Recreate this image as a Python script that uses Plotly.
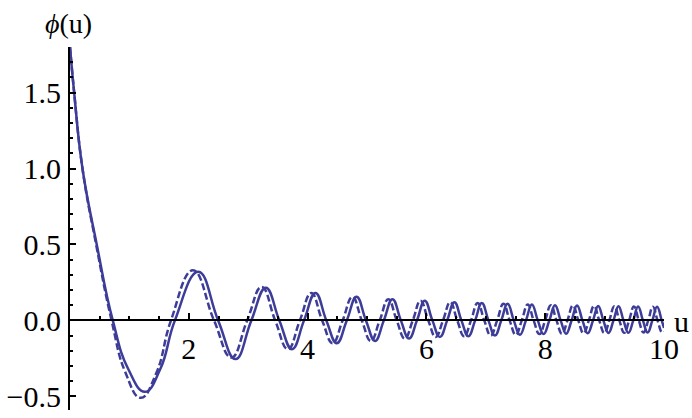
import plotly.graph_objects as go

# values (extrema + zero crossings)
u_solid = [0.00, 0.07, 0.21, 0.45, 0.72, 0.98, 1.26, 1.52, 1.766,
           2.161, 2.494, 2.787, 3.053, 3.297, 3.524, 3.738, 3.940, 4.132, 4.315,
           4.491, 4.660, 4.824, 4.982, 5.135, 5.284, 5.429, 5.570, 5.707, 5.841,
           5.972, 6.101, 6.227, 6.350, 6.471, 6.589, 6.706, 6.821, 6.933, 7.044,
           7.153, 7.261, 7.367, 7.471, 7.574, 7.676, 7.776, 7.875, 7.973, 8.070,
           8.165, 8.260, 8.353, 8.445, 8.536, 8.627, 8.716, 8.805, 8.892, 8.979,
           9.065, 9.150, 9.234, 9.318, 9.401, 9.483, 9.564, 9.645, 9.725, 9.804,
           9.883, 9.961, 10.0]
phi_solid = [1.80, 1.50, 1.00, 0.50, 0.00, -0.32, -0.47, -0.32, 0.00,
             0.32, 0, -0.255, 0, 0.215, 0, -0.19, 0, 0.18, 0,
             -0.15, 0, 0.155, 0, -0.135, 0, 0.14, 0, -0.12, 0,
             0.13, 0, -0.11, 0, 0.12, 0, -0.105, 0, 0.115, 0,
             -0.10, 0, 0.11, 0, -0.095, 0, 0.105, 0, -0.09, 0,
             0.10, 0, -0.088, 0, 0.098, 0, -0.085, 0, 0.095, 0,
             -0.083, 0, 0.093, 0, -0.082, 0, 0.092, 0, -0.08, 0,
             0.09, 0, -0.05]

u_dashed = [0.00, 0.07, 0.21, 0.44, 0.70, 0.93, 1.19, 1.45, 1.70,
            2.070, 2.424, 2.717, 2.983, 3.227, 3.454, 3.668, 3.870, 4.062, 4.245,
            4.421, 4.590, 4.754, 4.912, 5.065, 5.214, 5.359, 5.500, 5.637, 5.771,
            5.902, 6.031, 6.157, 6.280, 6.401, 6.519, 6.636, 6.751, 6.863, 6.974,
            7.083, 7.191, 7.297, 7.401, 7.504, 7.606, 7.706, 7.805, 7.903, 8.000,
            8.095, 8.190, 8.283, 8.375, 8.466, 8.557, 8.646, 8.735, 8.822, 8.909,
            8.995, 9.080, 9.164, 9.248, 9.331, 9.413, 9.494, 9.575, 9.655, 9.734,
            9.813, 9.891, 9.968, 10.0]
phi_dashed = [1.80, 1.50, 1.00, 0.50, 0.00, -0.34, -0.51, -0.35, 0.00,
              0.33, 0, -0.245, 0, 0.22, 0, -0.19, 0, 0.18, 0,
              -0.15, 0, 0.155, 0, -0.135, 0, 0.14, 0, -0.12, 0,
              0.13, 0, -0.11, 0, 0.12, 0, -0.105, 0, 0.115, 0,
              -0.10, 0, 0.11, 0, -0.095, 0, 0.105, 0, -0.09, 0,
              0.10, 0, -0.088, 0, 0.098, 0, -0.085, 0, 0.095, 0,
              -0.083, 0, 0.093, 0, -0.082, 0, 0.092, 0, -0.08, 0,
              0.09, 0, -0.08, -0.075]

x_ticks = [2, 4, 6, 8, 10]
y_ticks = [-0.5, 0.0, 0.5, 1.0, 1.5]

X_RANGE = [0, 10]
Y_RANGE = [-0.59, 1.80]
LINE_COLOR = "#3d3d99"
FONT = "Liberation Serif"

fig = go.Figure()
fig.add_trace(go.Scatter(x=u_solid, y=phi_solid, mode="lines",
                         line=dict(color=LINE_COLOR, width=2.5, shape="spline", smoothing=1.3)))
fig.add_trace(go.Scatter(x=u_dashed, y=phi_dashed, mode="lines",
                         line=dict(color=LINE_COLOR, width=2.5, shape="spline", smoothing=1.3,
                                   dash="7px,3px")))

# put the x axis on the line y = 0
x_axis_pos = (0 - Y_RANGE[0]) / (Y_RANGE[1] - Y_RANGE[0])

fig.update_layout(
    width=692, height=418,
    margin=dict(l=70, r=28, t=47, b=5),
    paper_bgcolor="white", plot_bgcolor="white",
    showlegend=False,
    font=dict(family=FONT, size=30, color="black"),
    xaxis=dict(range=X_RANGE, tickmode="array", tickvals=x_ticks,
               anchor="free", position=x_axis_pos,
               showline=True, linecolor="black", linewidth=2,
               ticks="inside", ticklen=6, tickwidth=2, tickcolor="black",
               ticklabelstandoff=2,
               minor=dict(tickmode="linear", tick0=0, dtick=0.5, ticks="inside",
                          ticklen=3, tickwidth=2, tickcolor="black"),
               showgrid=False, zeroline=False),
    yaxis=dict(range=Y_RANGE, tickmode="array", tickvals=y_ticks, tickformat=".1f",
               showline=True, linecolor="black", linewidth=2,
               ticks="inside", ticklen=6, tickwidth=2, tickcolor="black",
               ticklabelstandoff=1,
               minor=dict(tickmode="linear", tick0=0, dtick=0.1, ticks="inside",
                          ticklen=3, tickwidth=2, tickcolor="black"),
               showgrid=False, zeroline=False),
)

fig.add_annotation(x=-0.003, y=1.065, xref="paper", yref="paper", showarrow=False,
                   xanchor="center", yanchor="middle",
                   text="<i>ϕ</i>(u)", font=dict(family=FONT, size=28))
fig.add_annotation(x=1.029, y=0.243, xref="paper", yref="paper", showarrow=False,
                   xanchor="center", yanchor="middle",
                   text="u", font=dict(family=FONT, size=30))

# drop the default 8px page margin so the figure fills the window exactly
fig.write_html("out.html", config={"displayModeBar": False},
               post_script="document.body.style.margin = '0';")
